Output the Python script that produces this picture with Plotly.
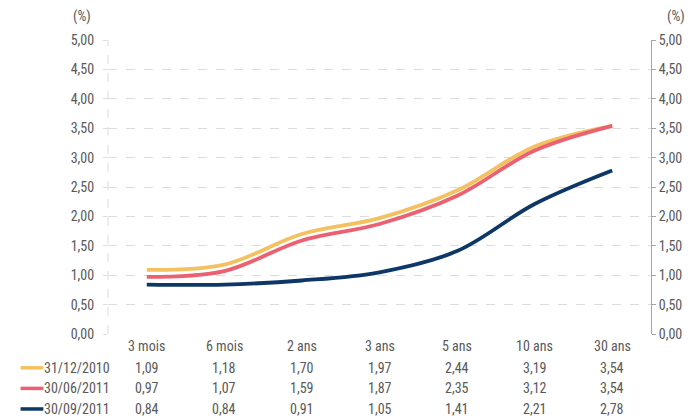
import plotly.graph_objects as go

categories = ["3 mois", "6 mois", "2 ans", "3 ans", "5 ans", "10 ans", "30 ans"]
series_names = ["31/12/2010", "30/06/2011", "30/09/2011"]
values_dec2010 = [1.09, 1.18, 1.70, 1.97, 2.44, 3.19, 3.54]
values_jun2011 = [0.97, 1.07, 1.59, 1.87, 2.35, 3.12, 3.54]
values_sep2011 = [0.84, 0.84, 0.91, 1.05, 1.41, 2.21, 2.78]
colors = ["#F4C160", "#EB6172", "#0C3766"]
series_values = [values_dec2010, values_jun2011, values_sep2011]

FONT = "Liberation Sans Narrow, Roboto Condensed, Roboto, sans-serif"
FS = 14
TXT = "#595959"

fig = go.Figure()
for name, vals, col in zip(series_names, series_values, colors):
    fig.add_trace(go.Scatter(
        x=categories, y=vals, name=name, mode="lines",
        line=dict(color=col, width=3.8, shape="spline", smoothing=1.0),
        showlegend=False,
    ))
# invisible trace for right axis
fig.add_trace(go.Scatter(x=categories, y=values_dec2010, yaxis="y2",
                         mode="lines", line=dict(width=0), opacity=0,
                         showlegend=False, hoverinfo="skip"))

fig.update_layout(
    width=686, height=408,
    margin=dict(l=100, r=40, t=32, b=82),
    paper_bgcolor="white", plot_bgcolor="white",
    separators=", ",
    font=dict(family=FONT, size=FS, color=TXT),
    xaxis=dict(type="category", range=[-0.5, 6.5], showticklabels=False,
               showgrid=False, zeroline=False, showline=False),
    yaxis=dict(range=[0, 5], dtick=0.5, tickformat=".2f",
               showgrid=True, gridcolor="#dcdcdc", griddash="dash", gridwidth=1,
               zeroline=False, showline=False,
               ticks="outside", ticklen=4, tickcolor="#dcdcdc",
               ticklabelstandoff=6,
               tickfont=dict(family=FONT, size=FS, color=TXT)),
    yaxis2=dict(range=[0, 5], dtick=0.5, tickformat=".2f", overlaying="y",
                side="right", showgrid=False, zeroline=False,
                showline=True, linecolor="#a6a6a6", linewidth=1,
                ticks="outside", ticklen=4, tickcolor="#a6a6a6",
                tickfont=dict(family=FONT, size=FS, color=TXT)),
)

# left dashed axis line
fig.add_shape(type="line", xref="paper", yref="paper", x0=0, x1=0, y0=0, y1=1,
              line=dict(color="#dcdcdc", width=1, dash="dash"))

# (%) labels
fig.add_annotation(text="(%)", xref="paper", yref="paper", x=-0.027, y=1.045,
                   showarrow=False, xanchor="right", yanchor="bottom",
                   font=dict(family=FONT, size=FS, color=TXT))
fig.add_annotation(text="(%)", xref="paper", yref="paper", x=1.025, y=1.045,
                   showarrow=False, xanchor="left", yanchor="bottom",
                   font=dict(family=FONT, size=FS, color=TXT))

# data table
row_y = [-0.04, -0.115, -0.185, -0.255]
for c in categories:
    fig.add_annotation(text=c, xref="x", yref="paper", x=c, y=row_y[0],
                       showarrow=False, yanchor="middle",
                       font=dict(family=FONT, size=FS, color=TXT))
for i, (name, vals, col) in enumerate(zip(series_names, series_values, colors)):
    yy = row_y[i + 1]
    for c, v in zip(categories, vals):
        fig.add_annotation(text=f"{v:.2f}".replace(".", ","), xref="x", yref="paper",
                           x=c, y=yy, showarrow=False, yanchor="middle",
                           font=dict(family=FONT, size=FS, color=TXT))
    fig.add_annotation(text=name, xref="paper", yref="paper", x=-0.121, y=yy,
                       showarrow=False, xanchor="left", yanchor="middle",
                       font=dict(family=FONT, size=FS, color=TXT))
    fig.add_shape(type="line", xref="paper", yref="paper", x0=-0.161, x1=-0.119,
                  y0=yy, y1=yy, line=dict(color=col, width=3.5))

fig.write_html("out.html")
